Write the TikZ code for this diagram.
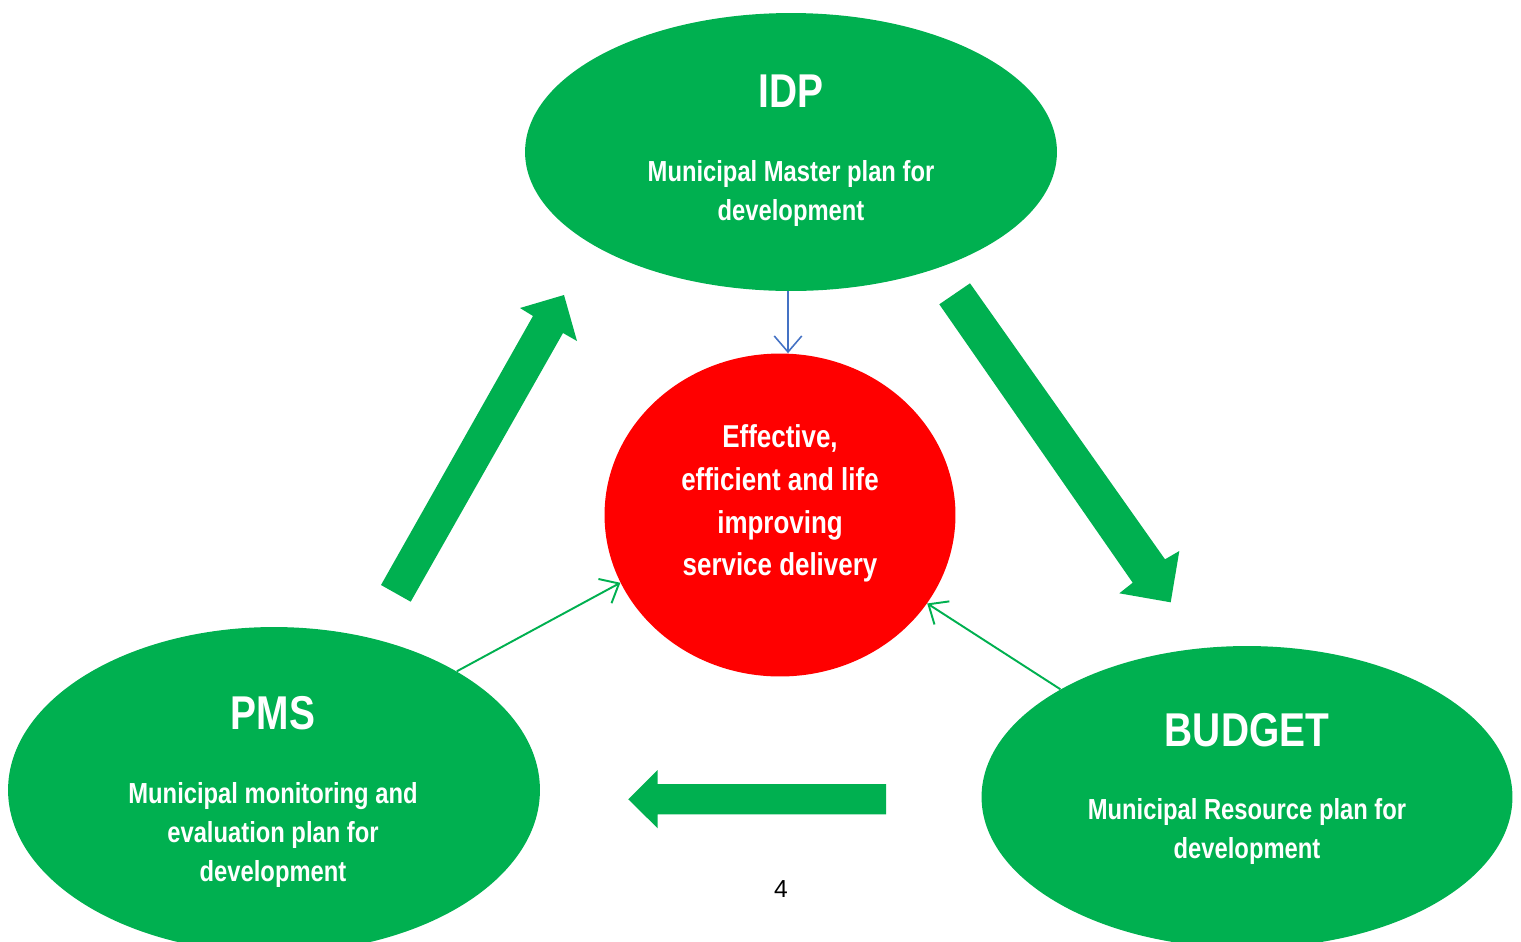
\documentclass[tikz,border=0pt]{standalone}
\usepackage{fontspec}
\setmainfont{Liberation Sans}[FakeStretch=0.82]
\newfontfamily\plainfont{Liberation Sans}
\usetikzlibrary{shapes.geometric,arrows.meta}
\definecolor{pgreen}{HTML}{00B050}
\definecolor{pred}{HTML}{FF0000}
\definecolor{pblue}{HTML}{4472C4}
\tikzset{
  blob/.style={ellipse, fill=pgreen, draw=none, inner sep=0pt},
  core/.style={ellipse, fill=pred, draw=none, inner sep=0pt},
  title/.style={text=white, inner sep=0pt, font=\bfseries\fontsize{27}{30}\selectfont},
  body/.style={text=white, align=center, inner sep=0pt, font=\bfseries\fontsize{16.5}{22.2}\selectfont},
  corebody/.style={text=white, align=center, inner sep=0pt, font=\bfseries\fontsize{18}{24.4}\selectfont},
  thinarrow/.style={draw=pgreen, line width=1.1pt, -{Straight Barb[length=3.2mm,width=5.5mm,line width=1.1pt]}},
  bluearrow/.style={draw=pblue, line width=0.9pt, -{Straight Barb[length=3.2mm,width=5.5mm,line width=0.9pt]}},
  blockarrow/.style={fill=pgreen, draw=none}
}
\begin{document}
\begin{tikzpicture}[x=0.02cm,y=-0.02cm]
\useasboundingbox (0,0) rectangle (1521,941);
\clip (0,0) rectangle (1521,941);
% ellipses
\node[blob, minimum width=10.64cm, minimum height=5.56cm] (idp) at (791,152) {};
\node[core, minimum width=7.02cm, minimum height=6.46cm] (core) at (780,515) {};
\node[blob, minimum width=10.64cm, minimum height=6.52cm] (pms) at (274,790) {};
\node[blob, minimum width=10.62cm, minimum height=6.04cm] (budget) at (1247,797) {};
% texts
\node[title] (idpt) at (791,91) {IDP};
\node[body] (idpb) at (791,193.5) {Municipal Master plan for\\development};
\node[corebody] (coret) at (780,503.5) {Effective,\\efficient and life\\improving\\service delivery};
\node[title] (pmst) at (273,713) {PMS};
\node[body] (pmsb) at (273,835) {Municipal monitoring and\\evaluation plan for\\development};
\node[title] (budgett) at (1247,730) {BUDGET};
\node[body] (budgetb) at (1247,831) {Municipal Resource plan for\\development};
\node[font=\plainfont\fontsize{14}{16}\selectfont, inner sep=0pt] (pnum) at (781,889) {4};
% thin connectors
\draw[bluearrow] ([xshift=-0.06cm]idp.south) -- ([xshift=-0.06cm]idp.south |- core.north);
\draw[thinarrow] (pms.33) -- (core.203);
\draw[thinarrow] (budget.150.5) -- (core.329);
% block arrows
\fill[blockarrow] (381,585) -- (533,316) -- (520,308) -- (564,295) -- (577,341) -- (563,333) -- (410.7,601.7) -- cycle;
\fill[blockarrow] (939.3,304.3) -- (970,283.3) -- (1165,559.3) -- (1179.3,551) -- (1170.7,602.3) -- (1119.3,593.3) -- (1132.7,582.7) -- cycle;
\fill[blockarrow] (886,784) -- (657.7,784) -- (657.7,770) -- (628.3,799.3) -- (657.7,828.3) -- (657.7,814.3) -- (886,814.3) -- cycle;
\end{tikzpicture}
\end{document}
